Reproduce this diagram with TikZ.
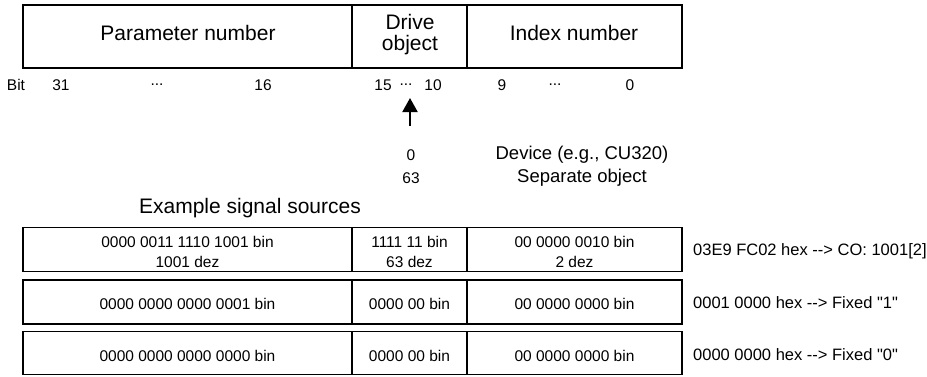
\documentclass[tikz,border=0pt]{standalone}
\usepackage{fontspec}
\setmainfont{Liberation Sans}[Ligatures=TeXOff]
\usetikzlibrary{arrows.meta}
\begin{document}
\begin{tikzpicture}[x=1pt,y=-1pt,
  cell/.style={draw=black,line width=1.8pt,inner sep=0pt,align=center,anchor=center},
  title/.style={font=\fontsize{21}{21}\selectfont},
  val/.style={font=\fontsize{15.5}{20}\selectfont},
  txt/.style={draw=none,inner sep=0pt,align=center},
  side/.style={font=\fontsize{16.5}{18}\selectfont,anchor=west,inner sep=0pt},
  bit/.style={font=\fontsize{15.5}{16}\selectfont,inner sep=0pt},
  lbl/.style={font=\fontsize{18.5}{20}\selectfont,inner sep=0pt},
  arr/.style={line width=2pt,-{Triangle[width=15pt,length=14pt]}}]
\useasboundingbox (0,0) rectangle (927,376);
% header boxes
\node[cell,minimum width=329,minimum height=63] (pn) at (187.5,36.5) {};
\node[cell,minimum width=114,minimum height=63] (do) at (409.5,36.5) {};
\node[cell,minimum width=215,minimum height=63] (ix) at (574.5,36.5) {};
\node[txt,title] (pnt) at (188,33) {Parameter number};
\node[txt,title] (dot) at (410,35) {Drive\\object};
\node[txt,title] (ixt) at (574,33) {Index number};
% bit labels
\node[bit] (bit) at (16,85) {Bit};
\node[bit] (b31) at (61,85) {31};
\node[bit] (d1) at (157,85) {...};
\node[bit] (b16) at (263,85) {16};
\node[bit] (b15) at (383,85) {15};
\node[bit] (d2) at (406,85) {...};
\node[bit] (b10) at (433,85) {10};
\node[bit] (b9) at (502,85) {9};
\node[bit] (d3) at (555,85) {...};
\node[bit] (b0) at (630,85) {0};
% arrow
\coordinate (atail) at (410,126);
\coordinate (atip) at (410,98);
\draw[arr] (atail) -- (atip);
\node[bit] (v0) at (411,155) {0};
\node[bit] (v63) at (411,178) {63};
\node[lbl] (dev) at (582,155) {Device (e.g., CU320)};
\node[lbl] (sep) at (582,178) {Separate object};
\node[title,inner sep=0pt] (ex) at (250,208) {Example signal sources};
% row 1
\node[cell,minimum width=329,minimum height=44] (r1a) at (187.5,249.5) {};
\node[cell,minimum width=114,minimum height=44] (r1b) at (409.5,249.5) {};
\node[cell,minimum width=215,minimum height=44] (r1c) at (574.5,249.5) {};
\node[txt,val] (r1at) at (187.5,252) {0000 0011 1110 1001 bin\\1001 dez};
\node[txt,val] (r1bt) at (409.5,252) {1111 11 bin\\63 dez};
\node[txt,val] (r1ct) at (574.5,252) {00 0000 0010 bin\\2 dez};
\node[side] (r1s) at (693,251) {03E9 FC02 hex --> CO: 1001[2]};
% row 2
\node[cell,minimum width=329,minimum height=44] (r2a) at (187.5,302) {};
\node[cell,minimum width=114,minimum height=44] (r2b) at (409.5,302) {};
\node[cell,minimum width=215,minimum height=44] (r2c) at (574.5,302) {};
\node[txt,val] (r2at) at (187.5,304) {0000 0000 0000 0001 bin};
\node[txt,val] (r2bt) at (409.5,304) {0000 00 bin};
\node[txt,val] (r2ct) at (574.5,304) {00 0000 0000 bin};
\node[side] (r2s) at (693,303) {0001 0000 hex --> Fixed "1"};
% row 3
\node[cell,minimum width=329,minimum height=43] (r3a) at (187.5,353) {};
\node[cell,minimum width=114,minimum height=43] (r3b) at (409.5,353) {};
\node[cell,minimum width=215,minimum height=43] (r3c) at (574.5,353) {};
\node[txt,val] (r3at) at (187.5,356) {0000 0000 0000 0000 bin};
\node[txt,val] (r3bt) at (409.5,356) {0000 00 bin};
\node[txt,val] (r3ct) at (574.5,356) {00 0000 0000 bin};
\node[side] (r3s) at (693,355) {0000 0000 hex --> Fixed "0"};
\end{tikzpicture}
\end{document}
